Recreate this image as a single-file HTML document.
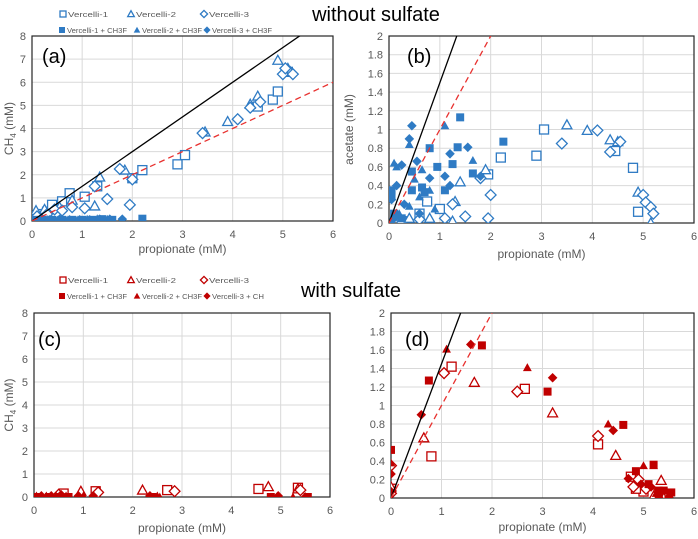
<!DOCTYPE html>
<html><head><meta charset="utf-8">
<style>
body{margin:0;background:#fff;}
svg{display:block;font-family:"Liberation Sans",sans-serif;}
</style></head>
<body>
<svg id="fig" width="698" height="539" viewBox="0 0 698 539">
<text x="376" y="21" font-size="20" text-anchor="middle" fill="#000">without sulfate</text>
<text x="351" y="297" font-size="20" text-anchor="middle" fill="#000">with sulfate</text>
</svg>
<script>
// ---------- data: panel (a) CH4 vs propionate, without sulfate ----------
const aV1x=[0.05,0.15,0.3,0.4,0.6,0.75,1.05,1.3,2.0,2.2,2.9,3.05,4.5,4.8,4.9,5.1];
const aV1y=[0.05,0.3,0.4,0.7,0.85,1.2,1.05,1.5,1.85,2.2,2.45,2.85,4.95,5.25,5.6,6.45];
const aV2x=[0.08,0.25,0.55,0.8,1.25,1.35,1.85,3.45,3.9,4.35,4.5,4.9,5.1,5.15];
const aV2y=[0.45,0.5,0.6,0.9,0.65,1.9,2.2,3.85,4.3,5.05,5.4,6.95,6.6,6.45];
const aV3x=[0.1,0.3,0.45,0.6,0.8,1.05,1.25,1.5,1.75,1.95,2.0,3.4,4.1,4.35,4.55,5.0,5.05,5.2];
const aV3y=[0.2,0.3,0.5,0.45,0.6,0.55,1.5,0.95,2.25,0.7,1.8,3.8,4.4,4.9,5.15,6.35,6.6,6.35];
const aF1x=[0.05,0.2,0.4,0.6,0.8,1.0,1.2,1.4,1.6,2.2];
const aF1y=[0.05,0.05,0.05,0.05,0.05,0.05,0.05,0.08,0.05,0.1];
const aF2x=[0.1,0.3,0.5,0.7,0.9,1.1,1.3,1.5];
const aF2y=[0.05,0.08,0.05,0.05,0.05,0.08,0.1,0.08];
const aF3x=[0.15,0.35,0.55,0.75,0.95,1.15,1.35,1.55,1.8];
const aF3y=[0.05,0.05,0.08,0.05,0.05,0.05,0.08,0.08,0.08];
// ---------- panel (b) acetate vs propionate, without sulfate ----------
const bV1x=[3.05,2.2,2.9,4.45,4.8,4.9,1.95,1.0,0.75,0.25,0.6];
const bV1y=[1.0,0.7,0.72,0.77,0.59,0.12,0.52,0.15,0.23,0.02,0.1];
const bV2x=[3.5,3.9,4.35,4.5,4.9,5.15,1.9,1.4,1.3,1.25,0.8,0.4];
const bV2y=[1.05,0.99,0.89,0.87,0.33,0.0,0.57,0.44,0.23,0.02,0.05,0.05];
const bV3x=[4.1,3.4,4.35,4.55,5.0,5.05,5.15,5.2,2.0,1.8,1.5,1.95,1.1,1.25,0.6];
const bV3y=[0.99,0.85,0.76,0.87,0.3,0.22,0.17,0.1,0.3,0.48,0.07,0.05,0.05,0.2,0.04];
const bF1x=[1.4,2.25,1.35,0.8,0.95,1.25,1.65,0.45,0.65,0.45,1.1,0.05,0.05,0.1,0.25,0.7];
const bF1y=[1.13,0.87,0.81,0.8,0.6,0.63,0.53,0.55,0.38,0.35,0.35,0.35,0.3,0.1,0.05,0.33];
const bF2x=[1.1,0.4,0.1,0.15,1.65,0.65,0.5,0.8,0.6,0.4,0.9,0.2,0.05];
const bF2y=[1.04,0.84,0.64,0.6,0.67,0.57,0.47,0.35,0.28,0.18,0.15,0.1,0.02];
const bF3x=[0.45,0.4,1.55,1.2,0.25,0.55,0.8,1.1,1.2,1.8,0.15,0.05,0.3,0.6,0.1];
const bF3y=[1.04,0.9,0.81,0.74,0.62,0.66,0.48,0.5,0.4,0.5,0.4,0.25,0.2,0.1,0.05];
// ---------- panel (c) CH4 vs propionate, with sulfate ----------
const cV1x=[0.6,1.25,2.7,4.55,5.35];
const cV1y=[0.15,0.25,0.3,0.35,0.4];
const cV2x=[0.95,2.2,4.75,5.35];
const cV2y=[0.25,0.3,0.45,0.35];
const cV3x=[0.5,1.3,2.85,5.4];
const cV3y=[0.1,0.2,0.25,0.3];
const cF1x=[0,0.1,0.3,0.5,0.7,2.4,4.8,5.55];
const cF1y=[0,0,0,0,0,0,0,0];
const cF2x=[0.05,0.25,0.45,0.65,1.0,2.5,2.55,5.25];
const cF2y=[0.05,0.05,0.05,0.05,0.05,0.05,0,0];
const cF3x=[0.15,0.35,0.55,0.9,1.2,2.35,4.95,5.5];
const cF3y=[0.05,0.05,0.1,0.05,0.05,0.05,0.05,0];
// ---------- panel (d) acetate vs propionate, with sulfate ----------
const dV1x=[0,0.8,1.2,2.65,4.1,4.75,5.0,4.85,5.3];
const dV1y=[0.1,0.45,1.42,1.18,0.58,0.23,0.07,0.1,0.05];
const dV2x=[0,0.65,1.65,3.2,4.45,5.35,5.2,5.4];
const dV2y=[0.12,0.65,1.25,0.92,0.46,0.19,0.02,0.0];
const dV3x=[0,0,1.05,2.5,4.1,4.8,4.9,5.05];
const dV3y=[0.35,0.05,1.35,1.15,0.67,0.12,0.2,0.1];
const dF1x=[0,0.75,1.8,3.1,4.6,5.2,4.85,5.1,5.3,5.4,5.55,5.3];
const dF1y=[0.52,1.27,1.65,1.15,0.79,0.36,0.29,0.15,0.08,0.08,0.06,0.02];
const dF2x=[0,1.1,2.7,4.3,5.0,5.2,5.25,5.35];
const dF2y=[0.38,1.61,1.41,0.8,0.35,0.35,0.05,0.0];
const dF3x=[0,0,0.6,1.58,3.2,4.4,4.7,4.95,5.15,5.5,5.3];
const dF3y=[0.26,0.07,0.9,1.66,1.3,0.73,0.21,0.15,0.12,0.01,0.03];
// reference line slopes (null = no line in that panel)
const blackSlopes=[1.5,1.5,null,1.45];
const redSlopes=[1,1,null,1];
const xTicks=[0,1,2,3,4,5,6];
const ch4Ticks=[0,1,2,3,4,5,6,7,8];
const acTicks=[0,0.2,0.4,0.6,0.8,1,1.2,1.4,1.6,1.8,2];
const acTickLabels=["0","0.2","0.4","0.6","0.8","1","1.2","1.4","1.6","1.8","2"];

const NS="http://www.w3.org/2000/svg";
const svg=document.getElementById('fig');
function mk(tag,attrs,parent){const e=document.createElementNS(NS,tag);for(const k in attrs)e.setAttribute(k,attrs[k]);(parent||svg).appendChild(e);return e;}

const panels=[
 {id:'a',L:32,R:333,T:36,B:221,ymax:8,yt:ch4Ticks,yl:ch4Ticks.map(String),col:'#2f7bc4',ser:[[aV1x,aV1y],[aV2x,aV2y],[aV3x,aV3y],[aF1x,aF1y],[aF2x,aF2y],[aF3x,aF3y]],lab:[42,63],ytitle:'ch4',xt:253},
 {id:'b',L:389,R:694,T:36,B:223,ymax:2,yt:acTicks,yl:acTickLabels,col:'#2f7bc4',ser:[[bV1x,bV1y],[bV2x,bV2y],[bV3x,bV3y],[bF1x,bF1y],[bF2x,bF2y],[bF3x,bF3y]],lab:[407,63],ytitle:'ac',xt:258},
 {id:'c',L:34,R:330,T:313,B:497,ymax:8,yt:ch4Ticks,yl:ch4Ticks.map(String),col:'#c00000',ser:[[cV1x,cV1y],[cV2x,cV2y],[cV3x,cV3y],[cF1x,cF1y],[cF2x,cF2y],[cF3x,cF3y]],lab:[38,346],ytitle:'ch4',xt:532},
 {id:'d',L:391,R:694,T:313,B:498,ymax:2,yt:acTicks,yl:acTickLabels,col:'#c00000',ser:[[dV1x,dV1y],[dV2x,dV2y],[dV3x,dV3y],[dF1x,dF1y],[dF2x,dF2y],[dF3x,dF3y]],lab:[405,346],ytitle:null,xt:531}
];
const shapes=['square','triangle','diamond','square','triangle','diamond'];

function marker(g,shape,cx,cy,filled,col,s){
  let e;
  const fill=filled?col:'#fff', sw=filled?0:1.3;
  if(shape==='square'){e=mk('rect',{x:cx-s/2,y:cy-s/2,width:s,height:s,fill:fill,stroke:col,'stroke-width':sw},g);}
  else if(shape==='triangle'){const h=s*0.55;e=mk('polygon',{points:`${cx},${cy-h} ${cx+h},${cy+h*0.8} ${cx-h},${cy+h*0.8}`,fill:fill,stroke:col,'stroke-width':sw},g);}
  else {const h=s*0.6;e=mk('polygon',{points:`${cx},${cy-h} ${cx+h},${cy} ${cx},${cy+h} ${cx-h},${cy}`,fill:fill,stroke:col,'stroke-width':sw},g);}
  return e;
}

panels.forEach((p,pi)=>{
  const g=mk('g',{});
  
  
  const X=v=>p.L+(p.R-p.L)*v/6, Y=v=>p.B-(p.B-p.T)*v/p.ymax;
  const clip=mk('clipPath',{id:'clip'+p.id},g);
  mk('rect',{x:p.L,y:p.T,width:p.R-p.L,height:p.B-p.T},clip);
  xTicks.forEach(t=>{const l=mk('line',{x1:X(t),x2:X(t),y1:p.T,y2:p.B,stroke:'#d9d9d9','stroke-width':1},g);
    
    const tx=mk('text',{x:X(t),y:p.B+17,'font-size':11,'text-anchor':'middle',fill:'#595959'},g);tx.textContent=t;
    });
  p.yt.forEach((t,i)=>{const l=mk('line',{x1:p.L,x2:p.R,y1:Y(t),y2:Y(t),stroke:'#d9d9d9','stroke-width':1},g);
    
    const tx=mk('text',{x:p.L-6,y:Y(t)+4,'font-size':11,'text-anchor':'end',fill:'#595959'},g);tx.textContent=p.yl[i];
    });
  const fr=mk('rect',{x:p.L,y:p.T,width:p.R-p.L,height:p.B-p.T,fill:'none',stroke:'#262626','stroke-width':1.2},g);
  
  const pg=mk('g',{'clip-path':`url(#clip${p.id})`},g);
  p.ser.forEach((s,si)=>{
    const sg=mk('g',{},pg);
    
    
    s[0].forEach((xv,k)=>{const m=marker(sg,shapes[si],X(xv),Y(s[1][k]),si>=3,p.col,si>=3?8:9);
      });
  });
  if(blackSlopes[pi]!==null){
    const bl=mk('line',{x1:X(0),y1:Y(0),x2:X(6),y2:Y(6*blackSlopes[pi]),stroke:'#000','stroke-width':1.3},pg);
    
  }
  if(redSlopes[pi]!==null){
    const rl=mk('line',{x1:X(0),y1:Y(0),x2:X(6),y2:Y(6*redSlopes[pi]),stroke:'#e8312f','stroke-width':1.3,'stroke-dasharray':'6,4'},pg);
    
  }
  const lb=mk('text',{x:p.lab[0],y:p.lab[1],'font-size':20,fill:'#000'},g);lb.textContent='('+p.id+')';
  
  const xt=mk('text',{x:(p.L+p.R)/2,y:p.xt,'font-size':12,'text-anchor':'middle',fill:'#595959'},g);xt.textContent='propionate (mM)';
  
  if(p.ytitle==='ch4'){
    const yt=mk('text',{transform:`translate(13,${(p.T+p.B)/2}) rotate(-90)`,'font-size':12,'text-anchor':'middle',fill:'#595959'},g);
    yt.innerHTML='CH<tspan font-size="8" dy="3">4</tspan><tspan dy="-3"> (mM)</tspan>';
    
  } else if(p.ytitle==='ac'){
    const yt=mk('text',{transform:`translate(353,${(p.T+p.B)/2}) rotate(-90)`,'font-size':12,'text-anchor':'middle',fill:'#595959'},g);
    yt.textContent='acetate (mM)';
    
  }
});

function legend(y0,col,names,id){
  const g=mk('g',{});
  
  
  const xs=[63,131,204,62,137,207];
  names.forEach((n,i)=>{
    const x=xs[i], y=y0+(i<3?0:16);
    const m=marker(g,shapes[i],x,y,i>=3,col,6);
    
    const t=mk('text',{x:x+5,y:y+3,'font-size':7.5,fill:'#595959',textLength:i<3?40:(i===5&&id==='bottom'?52:60),lengthAdjust:'spacingAndGlyphs'},g);t.textContent=n;
    
  });
}
legend(14,'#2f7bc4',['Vercelli-1','Vercelli-2','Vercelli-3','Vercelli-1 + CH3F','Vercelli-2 + CH3F','Vercelli-3 + CH3F'],'top');
legend(280,'#c00000',['Vercelli-1','Vercelli-2','Vercelli-3','Vercelli-1 + CH3F','Vercelli-2 + CH3F','Vercelli-3 + CH'],'bottom');
</script>
</body></html>
